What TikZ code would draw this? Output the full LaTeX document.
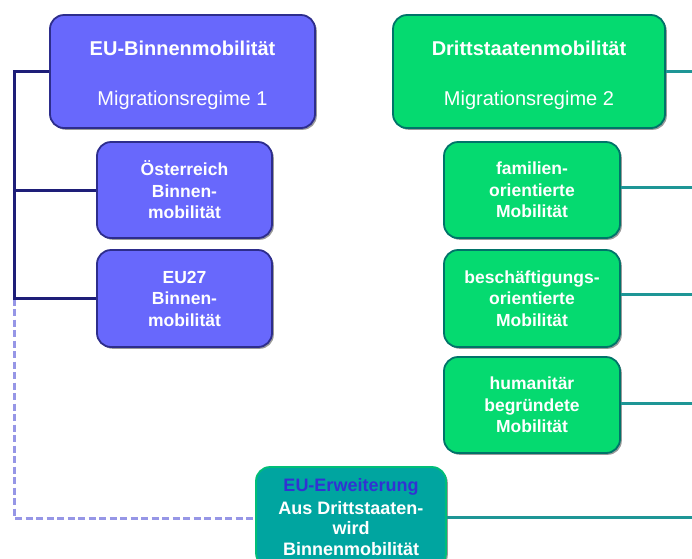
\documentclass[tikz,border=0pt]{standalone}
\usepackage{fontspec}
\setmainfont{Liberation Sans}
\usetikzlibrary{shadows}
\definecolor{bluefill}{RGB}{104,104,252}
\definecolor{blueedge}{RGB}{45,45,140}
\definecolor{greenfill}{RGB}{5,218,112}
\definecolor{greenedge}{RGB}{0,115,105}
\definecolor{tealfill}{RGB}{0,165,160}
\definecolor{tealedge}{RGB}{0,190,120}
\definecolor{tealline}{RGB}{30,150,150}
\definecolor{navyline}{RGB}{30,30,120}
\definecolor{dashline}{RGB}{150,150,230}
\definecolor{erwtext}{RGB}{50,50,210}
\begin{document}
\begin{tikzpicture}[x=1pt,y=-1pt,
  box/.style={rounded corners=14pt, line width=1.8pt, align=center, inner sep=0pt,
    text=white, drop shadow={shadow xshift=1.8pt, shadow yshift=-1.8pt, fill=black, opacity=0.4}},
  bluebox/.style={box, fill=bluefill, draw=blueedge},
  greenbox/.style={box, fill=greenfill, draw=greenedge},
  tealbox/.style={box, fill=tealfill, draw=tealedge},
  bigtxt/.style={font=\fontsize{20}{22}\selectfont},
  smalltxt/.style={font=\fontsize{17.5}{21.5}\selectfont\bfseries},
  navy/.style={draw=navyline, line width=3pt, line join=miter},
  teal/.style={draw=tealline, line width=3pt},
  dashlink/.style={draw=dashline, line width=3pt, dash pattern=on 7pt off 3.5pt}
]
\useasboundingbox (0,0) rectangle (692,558);
\clip (0,0) rectangle (692,558);

\coordinate (L0) at (14,71.5);
\coordinate (L1) at (14,190);
\coordinate (L2) at (14,298.5);
\coordinate (L3) at (14,518);
\coordinate (R0) at (692,71.5);
\coordinate (R1) at (692,187);
\coordinate (R2) at (692,294);
\coordinate (R3) at (692,403);
\coordinate (R4) at (692,517);

% boxes
\node[bluebox, bigtxt, minimum width=265pt, minimum height=113pt] (eub) at (182.5,71.5)
  {\rule{0pt}{23pt}{\bfseries EU-Binnenmobilität}\\[28pt]Migrationsregime 1};
\node[greenbox, bigtxt, minimum width=272pt, minimum height=113pt] (dsm) at (529,71.5)
  {\rule{0pt}{23pt}{\bfseries Drittstaatenmobilität}\\[28pt]Migrationsregime 2};
\node[bluebox, smalltxt, minimum width=175pt, minimum height=96pt] (oe) at (184.5,190)
  {Österreich\\Binnen-\\mobilität};
\node[bluebox, smalltxt, minimum width=175pt, minimum height=97pt] (eu27) at (184.5,298.5)
  {EU27\\Binnen-\\mobilität};
\node[greenbox, smalltxt, minimum width=176pt, minimum height=96pt] (fam) at (532,190)
  {familien-\\orientierte\\Mobilität};
\node[greenbox, smalltxt, minimum width=176pt, minimum height=97pt] (bes) at (532,298.5)
  {beschäftigungs-\\orientierte\\Mobilität};
\node[greenbox, smalltxt, minimum width=176pt, minimum height=96pt] (hum) at (532,405)
  {humanitär\\begründete\\Mobilität};
\node[tealbox, font=\fontsize{18}{20.5}\selectfont\bfseries, minimum width=190pt, minimum height=100pt] (erw) at (351,517)
  {\textcolor{erwtext}{EU-Erweiterung}\\[2pt]Aus Drittstaaten-\\wird\\Binnenmobilität};

% left side
\draw[dashlink] (L2) -- (L3) -- (erw.west |- L3);
\draw[navy] (eub.west) -- (L0) -- (L2) -- (L2 -| eu27.west);
\draw[navy] (L1) -- (L1 -| oe.west);

% right side
\draw[teal] (dsm.east) -- (R0);
\draw[teal] (fam.east |- R1) -- (R1);
\draw[teal] (bes.east |- R2) -- (R2);
\draw[teal] (hum.east |- R3) -- (R3);
\draw[teal] (erw.east |- R4) -- (R4);
\end{tikzpicture}
\end{document}
